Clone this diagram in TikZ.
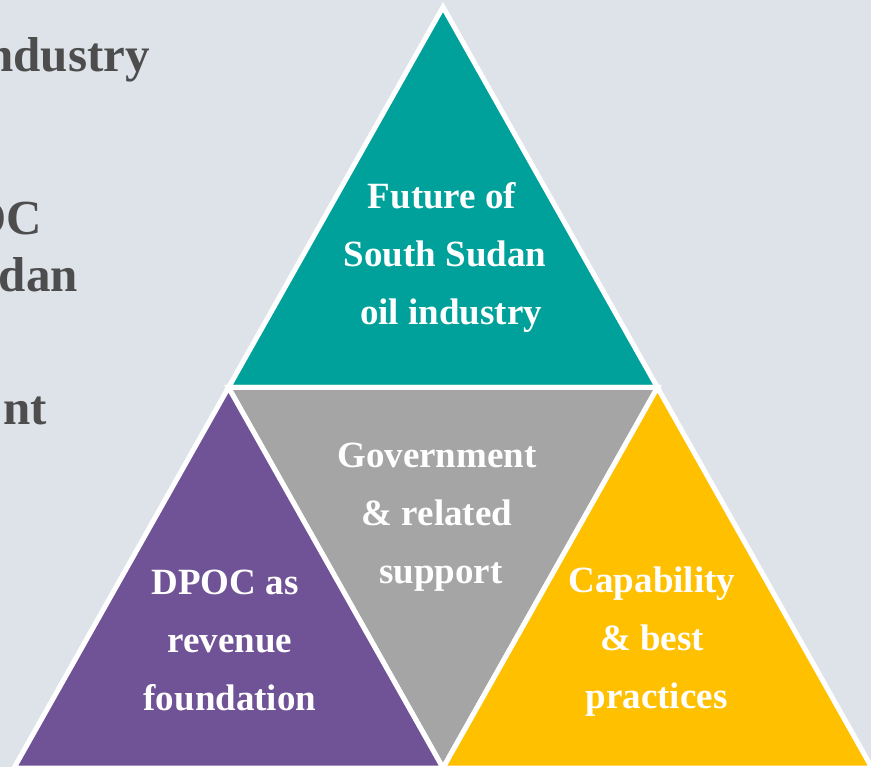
\documentclass[tikz,border=0pt]{standalone}
\usepackage{fontspec}
\setmainfont{Liberation Serif}
\definecolor{myteal}{RGB}{0,161,154}
\definecolor{mypurple}{RGB}{112,82,150}
\definecolor{mygray}{RGB}{165,165,165}
\definecolor{myyellow}{RGB}{255,192,0}
\definecolor{mybg}{RGB}{222,227,234}
\definecolor{mytext}{RGB}{77,77,77}

\begin{document}
\begin{tikzpicture}[x=1pt,y=-1pt,
  tri/.style={draw=white,line width=5pt,line join=miter},
  lbl/.style={text=white,font=\bfseries\fontsize{37}{58}\selectfont,align=center,inner sep=0pt},
  side/.style={text=mytext,font=\bfseries\fontsize{49}{58}\selectfont,inner sep=0pt,anchor=base east}]

 \useasboundingbox (0,0) rectangle (871,767);
 \clip (0,0) rectangle (871,767);
 \fill[mybg] (0,0) rectangle (871,767);

 \coordinate (apex) at (443,7);
 \coordinate (bl) at (14,768);
 \coordinate (br) at (872,768);
 \coordinate (ml) at (228.5,387.5);
 \coordinate (mr) at (657.5,387.5);
 \coordinate (mb) at (443,768);

 % text cut off at the left edge
 \node[side] (ind) at (150,72) {ndustry};
 \node[side] (oc) at (42,235) {OC};
 \node[side] (dan) at (78,292) {dan};
 \node[side] (nt) at (47,425) {nt};

 % the four triangles
 \filldraw[tri,fill=myteal] (apex) -- (ml) -- (mr) -- cycle;
 \filldraw[tri,fill=mygray] (ml) -- (mr) -- (mb) -- cycle;
 \filldraw[tri,fill=mypurple] (ml) -- (bl) -- (mb) -- cycle;
 \filldraw[tri,fill=myyellow] (mr) -- (mb) -- (br) -- cycle;

 \node[lbl] (future) at (442,257.5) {Future of\\\hspace*{6pt}South Sudan\\\hspace*{18pt}oil industry};
 \node[lbl] (govt) at (437,517.5) {Government\\\& related\\\hspace*{8pt}support};
 \node[lbl] (dpoc) at (225,640) {DPOC as\\\hspace*{10pt}revenue\\\hspace*{10pt}foundation};
 \node[lbl] (capab) at (652,641.5) {Capability\\\& best\\\hspace*{9pt}practices};

\end{tikzpicture}
\end{document}
